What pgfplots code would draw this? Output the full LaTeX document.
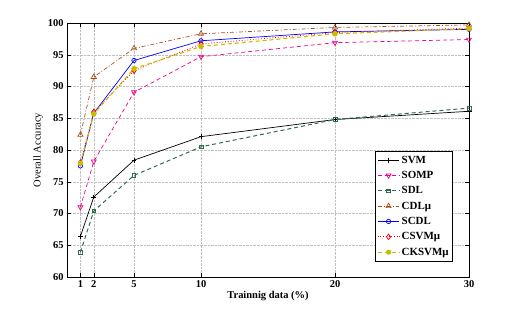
\documentclass[border=0pt]{standalone}
\usepackage{fontspec}
\setmainfont{Liberation Serif}
\usepackage{pgfplots}
\pgfplotsset{compat=1.18}
\definecolor{sdlgreen}{RGB}{46,110,78}
\definecolor{cdlbrown}{RGB}{170,80,30}
\definecolor{cksvm}{RGB}{200,190,0}
\begin{document}
\begin{tikzpicture}[x=1bp,y=1bp]
\useasboundingbox (0,0) rectangle (519,312);
\begin{axis}[
  at={(67bp,35bp)}, anchor=south west,
  scale only axis, width=402bp, height=254bp,
  xmin=0, xmax=30, ymin=60, ymax=100,
  xtick={1,2,5,10,20,30},
  ytick={60,65,...,100},
  tick align=inside,
  tick style={black, line width=0.4pt},
  major tick length=4bp,
  grid=major,
  grid style={gray!50, densely dotted, line width=0.5pt},
  axis line style={line width=0.6pt},
  ticklabel style={font=\fontsize{10.5}{12}\selectfont\bfseries},
  /pgf/number format/assume math mode=true,
  xlabel={\textbf{Trainnig data (\%)}},
  ylabel={Overall Accuracy},
  label style={font=\fontsize{10.5}{12}\selectfont},
  xlabel style={yshift=3bp},
  ylabel style={yshift=-2bp},
  legend style={at={(0.96,0.06)}, anchor=south east, font=\fontsize{11}{13}\selectfont\bfseries,
    draw=black, line width=0.5pt, row sep=2.6bp, inner xsep=2bp, inner ysep=3bp},
  legend cell align=left,
  legend image post style={line width=0.7pt},
  legend image code/.code={\draw[mark repeat=2,mark phase=2] plot coordinates {(0cm,0cm) (0.38cm,0cm) (0.76cm,0cm)};},
]
\addplot[black, solid, line width=0.7pt, mark=+, mark size=2.5pt] coordinates {(1,66.4) (2,72.6) (5,78.4) (10,82.1) (20,84.8) (30,86.1)};
\addlegendentry{SVM}
\addplot[magenta, dash pattern=on 4pt off 3pt, line width=0.7pt, mark=triangle, mark options={solid, rotate=180}, mark size=2.8pt] coordinates {(1,71.0) (2,78.2) (5,89.1) (10,94.7) (20,96.9) (30,97.4)};
\addlegendentry{SOMP}
\addplot[sdlgreen, dash pattern=on 4pt off 3pt, line width=1.0pt, mark=square, mark options={solid, line width=0.6pt}, mark size=1.8pt] coordinates {(1,63.9) (2,70.4) (5,76.0) (10,80.5) (20,84.8) (30,86.6)};
\addlegendentry{SDL}
\addplot[cdlbrown, dash pattern=on 4pt off 2pt on 1pt off 2pt, line width=0.7pt, mark=triangle, mark options={solid}, mark size=3pt] coordinates {(1,82.4) (2,91.5) (5,96.0) (10,98.3) (20,99.3) (30,99.7)};
\addlegendentry{CDLμ}
\addplot[blue, solid, line width=0.7pt, mark=o, mark size=2.2pt] coordinates {(1,77.5) (2,85.8) (5,94.1) (10,97.2) (20,98.6) (30,99.0)};
\addlegendentry{SCDL}
\addplot[red, dotted, line width=0.8pt, mark=diamond, mark options={solid}, mark size=2.8pt] coordinates {(1,78.0) (2,86.0) (5,92.5) (10,96.7) (20,98.5) (30,99.2)};
\addlegendentry{CSVMμ}
\addplot[cksvm, dash pattern=on 4pt off 3pt, line width=1.1pt, mark=*, mark options={solid}, mark size=2.2pt] coordinates {(1,77.9) (2,85.7) (5,92.8) (10,96.3) (20,98.3) (30,99.1)};
\addlegendentry{CKSVMμ}
\end{axis}
\end{tikzpicture}
\end{document}
